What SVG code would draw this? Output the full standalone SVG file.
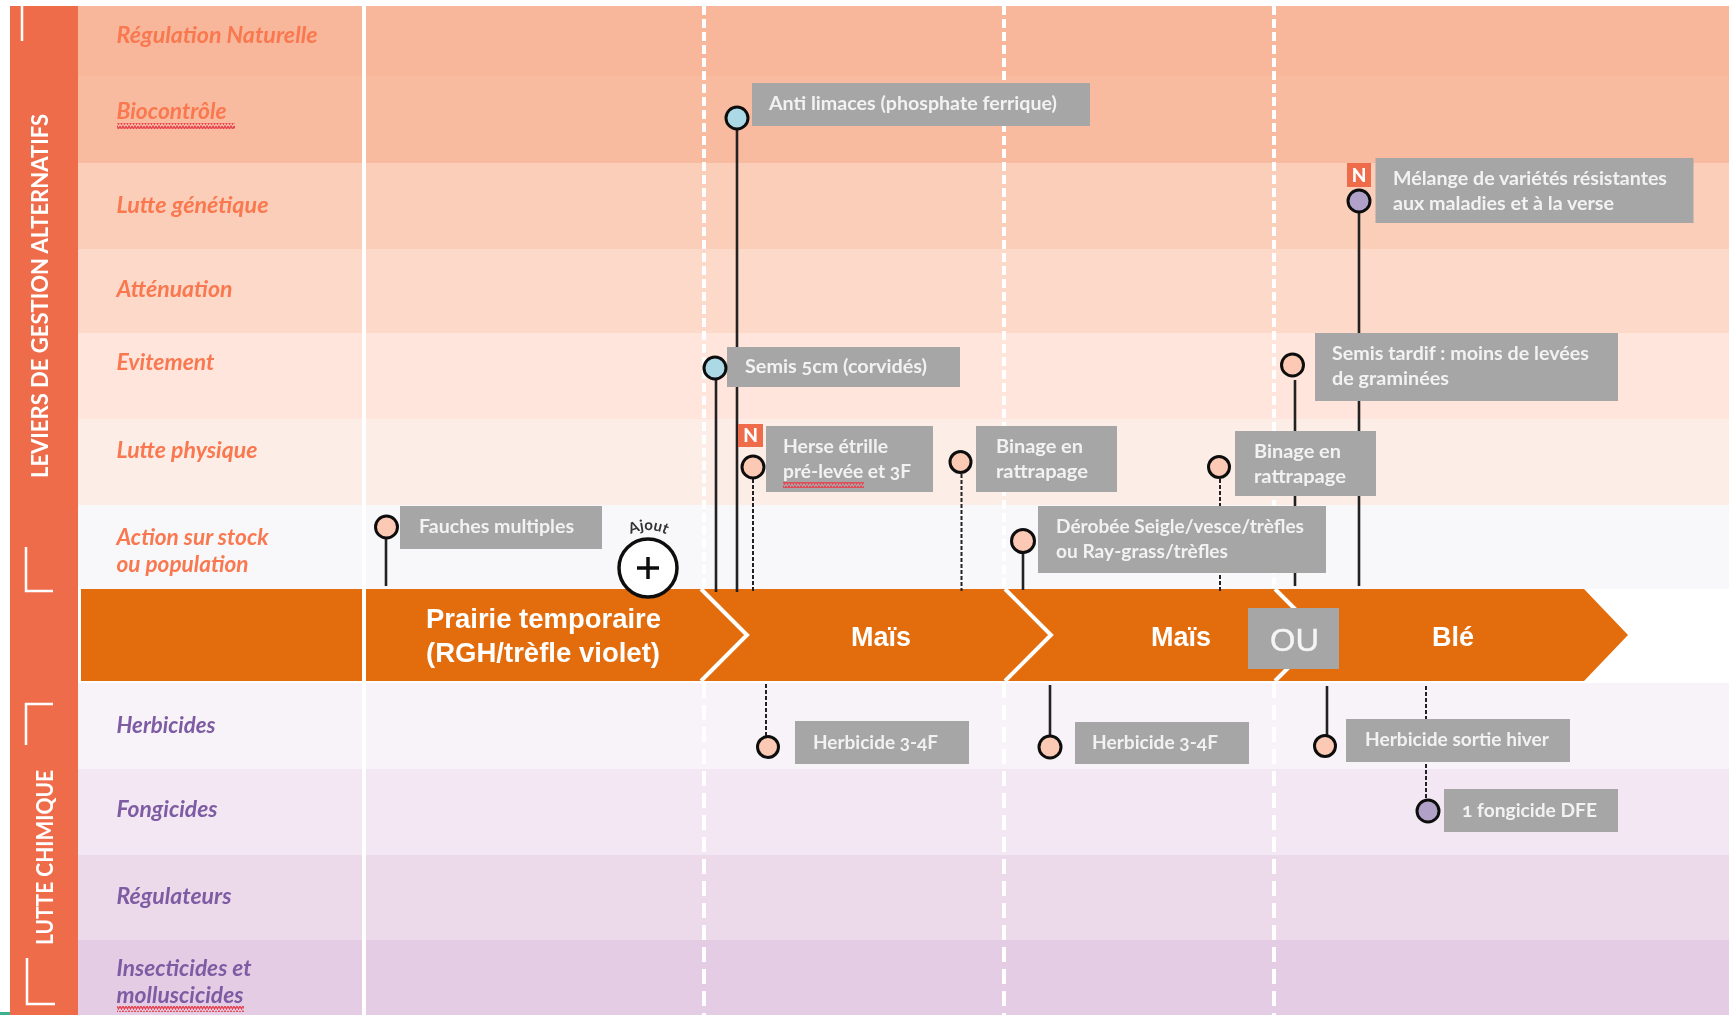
<svg xmlns="http://www.w3.org/2000/svg" width="1729" height="1015" viewBox="0 0 1729 1015">
<style>
.lbl{font-family:"Lato","Noto Sans",sans-serif;font-weight:700;font-style:italic;font-size:22px}
.o{fill:#F9784F}
.p{fill:#7E5CA3}
.box{fill:#A6A6A6}
.t{font-family:"Lato","Noto Sans",sans-serif;font-weight:700;font-size:18px;fill:#F2F2F2;font-variant-numeric:oldstyle-nums}
.r{font-family:"Liberation Sans",Arial,sans-serif;font-weight:700;font-size:28px;fill:#fff}
.side{font-family:"Lato","Noto Sans",sans-serif;font-weight:700;font-size:22px;fill:#fff}
.c{stroke:#111;stroke-width:3}
.pe{fill:#FCC9B5}.bl{fill:#ABD9E6}.pu{fill:#B1A0C7}
.solid{stroke:#222;stroke-width:2.600;fill:none}
.dash{stroke:#222;stroke-width:2;stroke-dasharray:4 2;fill:none}
.wd{stroke:#fff;stroke-width:4;fill:none}
.mark{stroke:#fff;stroke-width:2.500;fill:none}
.nbg{fill:#EF6C4C}
.n{font-family:"Lato","Noto Sans",sans-serif;font-weight:900;font-size:19px;fill:#fff;text-anchor:middle}
</style>
<defs>
<pattern id="wavy" width="6" height="5" patternUnits="userSpaceOnUse">
<path d="M0 1L1.500 4L3 1L4.500 4L6 1" fill="none" stroke="#E8414F" stroke-width="1.300"/>
</pattern>
<path id="arc" d="M626 537Q648 523 671 537"/>
<filter id="soft" x="0" y="0" width="100%" height="100%"><feGaussianBlur stdDeviation="0.500"/></filter>
</defs>

<g id="drawing" filter="url(#soft)">
<rect x="0" y="0" width="1729" height="1015" fill="#fff"/>
<g id="bands">
<rect x="78" y="6" width="1651" height="70" fill="#F8B79B"/>
<rect x="78" y="76" width="1651" height="87" fill="#F9BBA0"/>
<rect x="78" y="163" width="1651" height="86" fill="#FBCEB9"/>
<rect x="78" y="249" width="1651" height="84" fill="#FCD9C9"/>
<rect x="78" y="333" width="1651" height="86" fill="#FFE5DC"/>
<rect x="78" y="419" width="1651" height="86" fill="#FCEDE6"/>
<rect x="78" y="505" width="1651" height="84" fill="#F8F8FA"/>
<rect x="78" y="683" width="1651" height="86" fill="#F8F3F9"/>
<rect x="78" y="769" width="1651" height="86" fill="#F2E7F3"/>
<rect x="78" y="855" width="1651" height="85" fill="#ECDAEB"/>
<rect x="78" y="940" width="1651" height="75" fill="#E4CDE4"/>
<path class="wd" d="M364 6V1015"/>
<path class="wd" d="M704 6V589M1004 6V589M1274 6V589" stroke-dasharray="9 4"/>
<path class="wd" d="M704 683V1015M1004 683V1015M1274 683V1015" stroke-dasharray="15 7"/>
</g>

<g id="sidebar">
<rect x="10" y="6" width="68" height="1009" fill="#EF6C4C"/>
<rect x="0" y="1012" width="10" height="3" fill="#3CB08E"/>
<path class="mark" d="M22 6V41M26 547V591H53M53 704H26V745M27 958V1004H55"/>
<path d="M79.500 587V683" stroke="#fff" stroke-width="3" fill="none"/>
<text class="side" transform="translate(48 478) rotate(-90)" textLength="364" lengthAdjust="spacingAndGlyphs">LEVIERS DE GESTION ALTERNATIFS</text>
<text class="side" transform="translate(53 945) rotate(-90)" textLength="175" lengthAdjust="spacingAndGlyphs">LUTTE CHIMIQUE</text>
</g>

<g id="row-labels">
<text class="lbl o" x="116.500" y="43" textLength="201" lengthAdjust="spacingAndGlyphs">Régulation Naturelle</text>
<text class="lbl o" x="116.500" y="119" textLength="110" lengthAdjust="spacingAndGlyphs">Biocontrôle</text>
<rect x="117" y="123" width="118" height="6" fill="url(#wavy)"/>
<text class="lbl o" x="116.500" y="213" textLength="152" lengthAdjust="spacingAndGlyphs">Lutte génétique</text>
<text class="lbl o" x="116.500" y="297" textLength="116" lengthAdjust="spacingAndGlyphs">Atténuation</text>
<text class="lbl o" x="116.500" y="370" textLength="98" lengthAdjust="spacingAndGlyphs">Evitement</text>
<text class="lbl o" x="116.500" y="458" textLength="141" lengthAdjust="spacingAndGlyphs">Lutte physique</text>
<text class="lbl o" x="116.500" y="545" textLength="152" lengthAdjust="spacingAndGlyphs">Action sur stock</text>
<text class="lbl o" x="116.500" y="572" textLength="132" lengthAdjust="spacingAndGlyphs">ou population</text>
<text class="lbl p" x="116.500" y="733" textLength="99" lengthAdjust="spacingAndGlyphs">Herbicides</text>
<text class="lbl p" x="116.500" y="817" textLength="101" lengthAdjust="spacingAndGlyphs">Fongicides</text>
<text class="lbl p" x="116.500" y="904" textLength="115" lengthAdjust="spacingAndGlyphs">Régulateurs</text>
<text class="lbl p" x="116.500" y="976" textLength="135" lengthAdjust="spacingAndGlyphs">Insecticides et</text>
<text class="lbl p" x="116.500" y="1003" textLength="127" lengthAdjust="spacingAndGlyphs">molluscicides</text>
<rect x="117" y="1006" width="127" height="6" fill="url(#wavy)"/>
</g>

<g id="ribbon">
<rect x="81" y="589" width="281" height="92" fill="#E36C0A"/>
<polygon points="366,589 1584,589 1628,635 1584,681 366,681" fill="#E36C0A"/>
<path class="wd" d="M701 589L747 635L701 681M1005 589L1051 635L1005 681M1275 589L1321 635L1275 681"/>
<text class="r" x="426" y="628" textLength="235" lengthAdjust="spacingAndGlyphs">Prairie temporaire</text>
<text class="r" x="426" y="662" textLength="234" lengthAdjust="spacingAndGlyphs">(RGH/trèfle violet)</text>
<text class="r" x="851" y="646" textLength="60" lengthAdjust="spacingAndGlyphs">Maïs</text>
<text class="r" x="1151" y="646" textLength="60" lengthAdjust="spacingAndGlyphs">Maïs</text>
<text class="r" x="1432" y="646" textLength="42" lengthAdjust="spacingAndGlyphs">Blé</text>
</g>

<g id="connectors">
<path class="solid" d="M386 527V586"/>
<path class="solid" d="M737 118V592"/>
<path class="solid" d="M716 368V592"/>
<path class="solid" d="M1023 541V590"/>
<path class="solid" d="M1359 201V586"/>
<path class="solid" d="M1295 380V586"/>
<path class="solid" d="M1050 685V747"/>
<path class="solid" d="M1327 686V746"/>
<path class="dash" d="M753 467V593"/>
<path class="dash" d="M961.500 462V591"/>
<path class="dash" d="M1220 467V593"/>
<path class="dash" d="M766 684V747"/>
<path class="dash" d="M1426 686V811"/>
</g>

<g id="n-fauches"><rect class="box" x="400" y="506" width="202" height="43"/><circle class="c pe" cx="386.500" cy="527" r="11"/><text class="t" x="419" y="533" textLength="155" lengthAdjust="spacingAndGlyphs">Fauches multiples</text></g>

<g id="n-ajout">
<circle cx="648" cy="568" r="29" fill="#fff" stroke="#111" stroke-width="3.500"/>
<path d="M648 557V579M637 568H659" stroke="#111" stroke-width="3.500" fill="none"/>
<text font-family="Lato, sans-serif" font-weight="700" font-size="15" fill="#333" text-anchor="middle"><textPath href="#arc" startOffset="50%">Ajout</textPath></text>
</g>

<g id="n-anti"><rect class="box" x="752" y="83" width="338" height="43"/><circle class="c bl" cx="737" cy="118" r="11"/><text class="t" x="769" y="110" textLength="288" lengthAdjust="spacingAndGlyphs">Anti limaces (phosphate ferrique)</text></g>

<g id="n-melange"><rect class="box" x="1375.500" y="158" width="318" height="65"/><rect class="nbg" x="1347" y="163" width="24" height="24"/><text class="n" x="1359" y="182">N</text><circle class="c pu" cx="1359" cy="201" r="11"/><text class="t" x="1393" y="185" textLength="274" lengthAdjust="spacingAndGlyphs">Mélange de variétés résistantes</text><text class="t" x="1393" y="210" textLength="221" lengthAdjust="spacingAndGlyphs">aux maladies et à la verse</text></g>

<g id="n-semis5"><rect class="box" x="727" y="347" width="233" height="40"/><circle class="c bl" cx="715" cy="368" r="11"/><text class="t" x="745" y="373" textLength="182" lengthAdjust="spacingAndGlyphs">Semis 5cm (corvidés)</text></g>

<g id="n-tardif"><rect class="box" x="1315" y="333" width="303" height="68"/><circle class="c pe" cx="1292.500" cy="365" r="11"/><text class="t" x="1332" y="360" textLength="257" lengthAdjust="spacingAndGlyphs">Semis tardif : moins de levées</text><text class="t" x="1332" y="385" textLength="117" lengthAdjust="spacingAndGlyphs">de graminées</text></g>

<g id="n-herse"><rect class="box" x="766" y="426" width="167" height="66"/><rect class="nbg" x="738" y="424" width="25" height="23"/><text class="n" x="750.500" y="442">N</text><circle class="c pe" cx="753" cy="467" r="11"/><text class="t" x="783" y="453" textLength="105" lengthAdjust="spacingAndGlyphs">Herse étrille</text><text class="t" x="783" y="478" textLength="128" lengthAdjust="spacingAndGlyphs">pré-levée et 3F</text><rect x="783" y="482" width="81" height="6" fill="url(#wavy)"/></g>

<g id="n-binage1"><rect class="box" x="976" y="426" width="141" height="66"/><circle class="c pe" cx="960.500" cy="462" r="10.500"/><text class="t" x="996" y="453" textLength="87" lengthAdjust="spacingAndGlyphs">Binage en</text><text class="t" x="996" y="478" textLength="92" lengthAdjust="spacingAndGlyphs">rattrapage</text></g>

<g id="n-binage2"><rect class="box" x="1235" y="431" width="141" height="65"/><circle class="c pe" cx="1219" cy="467" r="10.500"/><text class="t" x="1254" y="458" textLength="87" lengthAdjust="spacingAndGlyphs">Binage en</text><text class="t" x="1254" y="483" textLength="92" lengthAdjust="spacingAndGlyphs">rattrapage</text></g>

<g id="n-derobee"><rect class="box" x="1038" y="506" width="288" height="67"/><circle class="c pe" cx="1023" cy="541" r="11.500"/><text class="t" x="1056" y="533" textLength="248" lengthAdjust="spacingAndGlyphs">Dérobée Seigle/vesce/trèfles</text><text class="t" x="1056" y="558" textLength="172" lengthAdjust="spacingAndGlyphs">ou Ray-grass/trèfles</text></g>

<g id="n-ou"><rect class="box" x="1248" y="608" width="91" height="61"/><text x="1270" y="651" font-family="Liberation Sans, Arial, sans-serif" font-size="32" fill="#F5F5F5" stroke="#F5F5F5" stroke-width="0.400" textLength="49" lengthAdjust="spacingAndGlyphs">OU</text></g>

<g id="n-herb1"><rect class="box" x="795" y="721" width="174" height="43"/><circle class="c pe" cx="768" cy="747" r="10.500"/><text class="t" x="813" y="749" textLength="125" lengthAdjust="spacingAndGlyphs">Herbicide 3-4F</text></g>

<g id="n-herb2"><rect class="box" x="1075" y="722" width="174" height="42"/><circle class="c pe" cx="1050" cy="747" r="11"/><text class="t" x="1092" y="749" textLength="126" lengthAdjust="spacingAndGlyphs">Herbicide 3-4F</text></g>

<g id="n-herb3"><rect class="box" x="1346" y="719" width="224" height="43"/><circle class="c pe" cx="1325" cy="746" r="10.500"/><text class="t" x="1365" y="746" textLength="184" lengthAdjust="spacingAndGlyphs">Herbicide sortie hiver</text></g>

<g id="n-fong"><rect class="box" x="1444" y="789" width="174" height="43"/><circle class="c pu" cx="1428" cy="811" r="11"/><text class="t" x="1462" y="817" textLength="135" lengthAdjust="spacingAndGlyphs">1 fongicide DFE</text></g>
</g>
</svg>
